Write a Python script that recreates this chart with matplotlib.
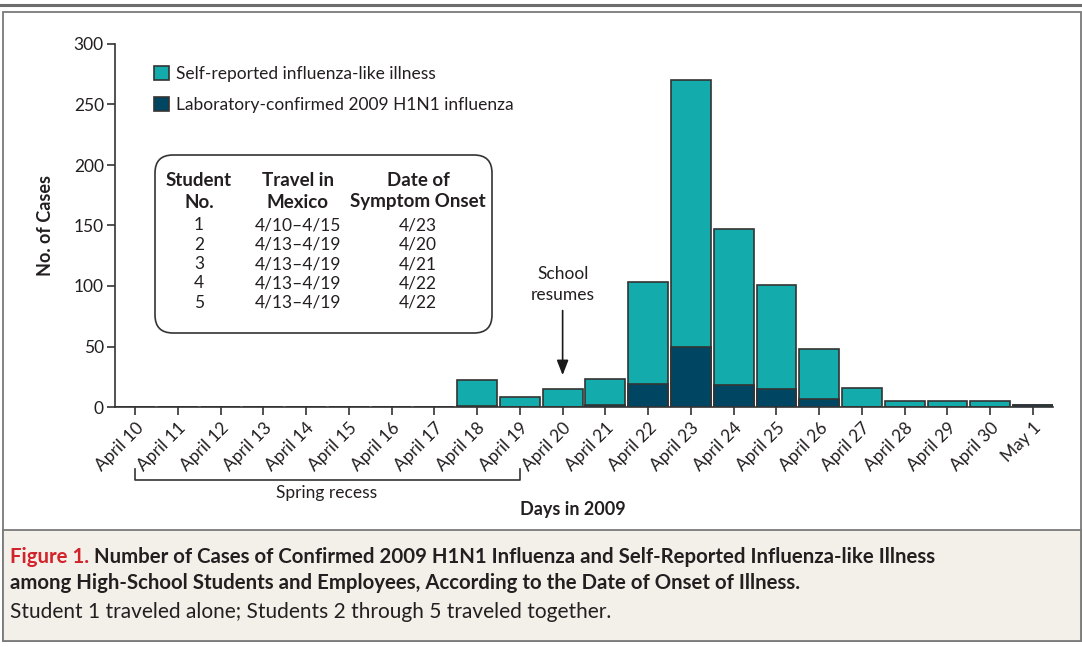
import matplotlib
matplotlib.use("Agg")
import matplotlib.pyplot as plt
from matplotlib.patches import Rectangle, FancyBboxPatch, Patch
from matplotlib.lines import Line2D
import matplotlib.transforms as mtransforms


# data
days = ["April 10", "April 11", "April 12", "April 13", "April 14", "April 15",
        "April 16", "April 17", "April 18", "April 19", "April 20", "April 21",
        "April 22", "April 23", "April 24", "April 25", "April 26", "April 27",
        "April 28", "April 29", "April 30", "May 1"]
total_cases = [0, 0, 0, 0, 0, 0, 0, 0, 22, 8, 15, 23, 103, 270, 147, 101, 48, 16, 5, 5, 5, 2]
lab_confirmed = [0, 0, 0, 0, 0, 0, 0, 0, 1, 0, 0, 2, 19, 50, 18, 15, 7, 0, 0, 0, 0, 2]

table_header = [("Student", "No."), ("Travel in", "Mexico"), ("Date of", "Symptom Onset")]
student_no = ["1", "2", "3", "4", "5"]
travel = ["4/10\u20134/15", "4/13\u20134/19", "4/13\u20134/19", "4/13\u20134/19", "4/13\u20134/19"]
onset = ["4/23", "4/20", "4/21", "4/22", "4/22"]

TEAL = "#13abab"
NAVY = "#004562"
EDGE = "#333333"
TXT = "#231f20"

W, H = 1082, 647
plt.rcParams["font.family"] = ["Lato", "DejaVu Sans"]
fig = plt.figure(figsize=(W / 100, H / 100), dpi=100)

# pixel coords (top-left origin) -> figure
pxT = mtransforms.Affine2D().scale(1 / W, -1 / H).translate(0, 1) + fig.transFigure

# outer frame and caption panel
fig.add_artist(Line2D([0, W], [5, 5], transform=pxT, color="#6d6d6d", lw=2.2))
fig.add_artist(Rectangle((3, 12), W - 4, 629, transform=pxT, fill=False,
                         edgecolor="#7a7a7a", lw=1.3))
fig.add_artist(Rectangle((3, 530), W - 4, 111, transform=pxT, facecolor="#f3f0ea",
                         edgecolor="#7a7a7a", lw=1.3))

ax = fig.add_axes([115 / W, 1 - 407 / H, (1053 - 115) / W, (407 - 44) / H])
x = list(range(len(days)))
ax.bar(x, total_cases, width=0.93, color=TEAL, edgecolor=EDGE, linewidth=1.2, zorder=2)
ax.bar(x, lab_confirmed, width=0.93, color=NAVY, edgecolor=EDGE, linewidth=1.2, zorder=3)

ax.set_xlim(-0.47, 21.47)
ax.set_ylim(0, 300)
ax.set_yticks(range(0, 301, 50))
ax.set_xticks(x)
ax.set_xticklabels(days, rotation=45, ha="right", rotation_mode="anchor")
for s in ["top", "right"]:
    ax.spines[s].set_visible(False)
for s in ["left", "bottom"]:
    ax.spines[s].set_color(EDGE)
    ax.spines[s].set_linewidth(1.2)
ax.tick_params(axis="both", colors=EDGE, labelcolor=TXT, labelsize=12.5, length=6, width=1.2)
ax.tick_params(axis="x", pad=3)
ax.tick_params(axis="y", pad=2)
ax.set_ylabel("No. of Cases", fontsize=13, fontweight="bold", color=TXT, labelpad=14)
fig.text(573 / W, 1 - 509 / H, "Days in 2009", ha="center", va="center",
         fontsize=13, fontweight="bold", color=TXT)

# legend
handles = [Patch(facecolor=TEAL, edgecolor=EDGE, lw=1.2),
           Patch(facecolor=NAVY, edgecolor=EDGE, lw=1.2)]
fig.legend(handles, ["Self-reported influenza-like illness",
                     "Laboratory-confirmed 2009 H1N1 influenza"],
           loc="upper left", bbox_to_anchor=(138 / W, 1 - 50 / H), frameon=False,
           fontsize=12.5, handlelength=0.9, handleheight=0.9, handletextpad=0.4,
           labelspacing=0.85, labelcolor=TXT)

# inset table
fig.add_artist(FancyBboxPatch((155, 155), 337, 178, transform=pxT,
                              boxstyle="round,pad=0,rounding_size=18",
                              facecolor="white", edgecolor=EDGE, lw=1.2))
col_x = [199, 298, 418]
for cx, (h1, h2) in zip(col_x, table_header):
    fig.text(cx / W, 1 - 180 / H, h1, ha="center", va="center", fontsize=13.5,
             fontweight="bold", color=TXT)
    fig.text(cx / W, 1 - 202 / H, h2, ha="center", va="center", fontsize=13.5,
             fontweight="bold", color=TXT)
for i in range(len(student_no)):
    yy = 1 - (225 + 19.5 * i) / H
    for cx, val in zip(col_x, (student_no[i], travel[i], onset[i])):
        fig.text(cx / W, yy, val, ha="center", va="center", fontsize=12.5, color=TXT)

# school resumes arrow
ax.annotate("", xy=(10, 24), xytext=(10, 82),
            arrowprops=dict(arrowstyle="-|>,head_length=0.9,head_width=0.35",
                            color="#1a1a1a", lw=1.2))
ax.text(10, 86, "School\nresumes", ha="center", va="bottom", fontsize=12.5,
        color=TXT, linespacing=1.35)

# spring recess bracket
bT = mtransforms.blended_transform_factory(ax.transData, pxT)
fig.add_artist(Line2D([0, 0, 9, 9], [469, 480, 480, 469], transform=bT,
                      color=EDGE, lw=1.2))
fig.text(327 / W, 1 - 493 / H, "Spring recess", ha="center", va="center",
         fontsize=12.5, color=TXT)

# caption
lead = fig.text(10 / W, 1 - 557 / H, "Figure 1.", fontsize=14.7, fontweight="bold",
                color="#d2232a", va="center")
fig.add_artist(plt.Annotation(
    " Number of Cases of Confirmed 2009 H1N1 Influenza and Self-Reported Influenza-like Illness",
    xy=(1, 0.5), xycoords=lead, va="center", fontsize=14.7, fontweight="bold", color=TXT))
fig.text(10 / W, 1 - 583 / H,
         "among High-School Students and Employees, According to the Date of Onset of Illness.",
         fontsize=14.7, fontweight="bold", color=TXT, va="center")
fig.text(10 / W, 1 - 612 / H,
         "Student 1 traveled alone; Students 2 through 5 traveled together.",
         fontsize=15, color=TXT, va="center")

fig.savefig("out.png", dpi=100)
